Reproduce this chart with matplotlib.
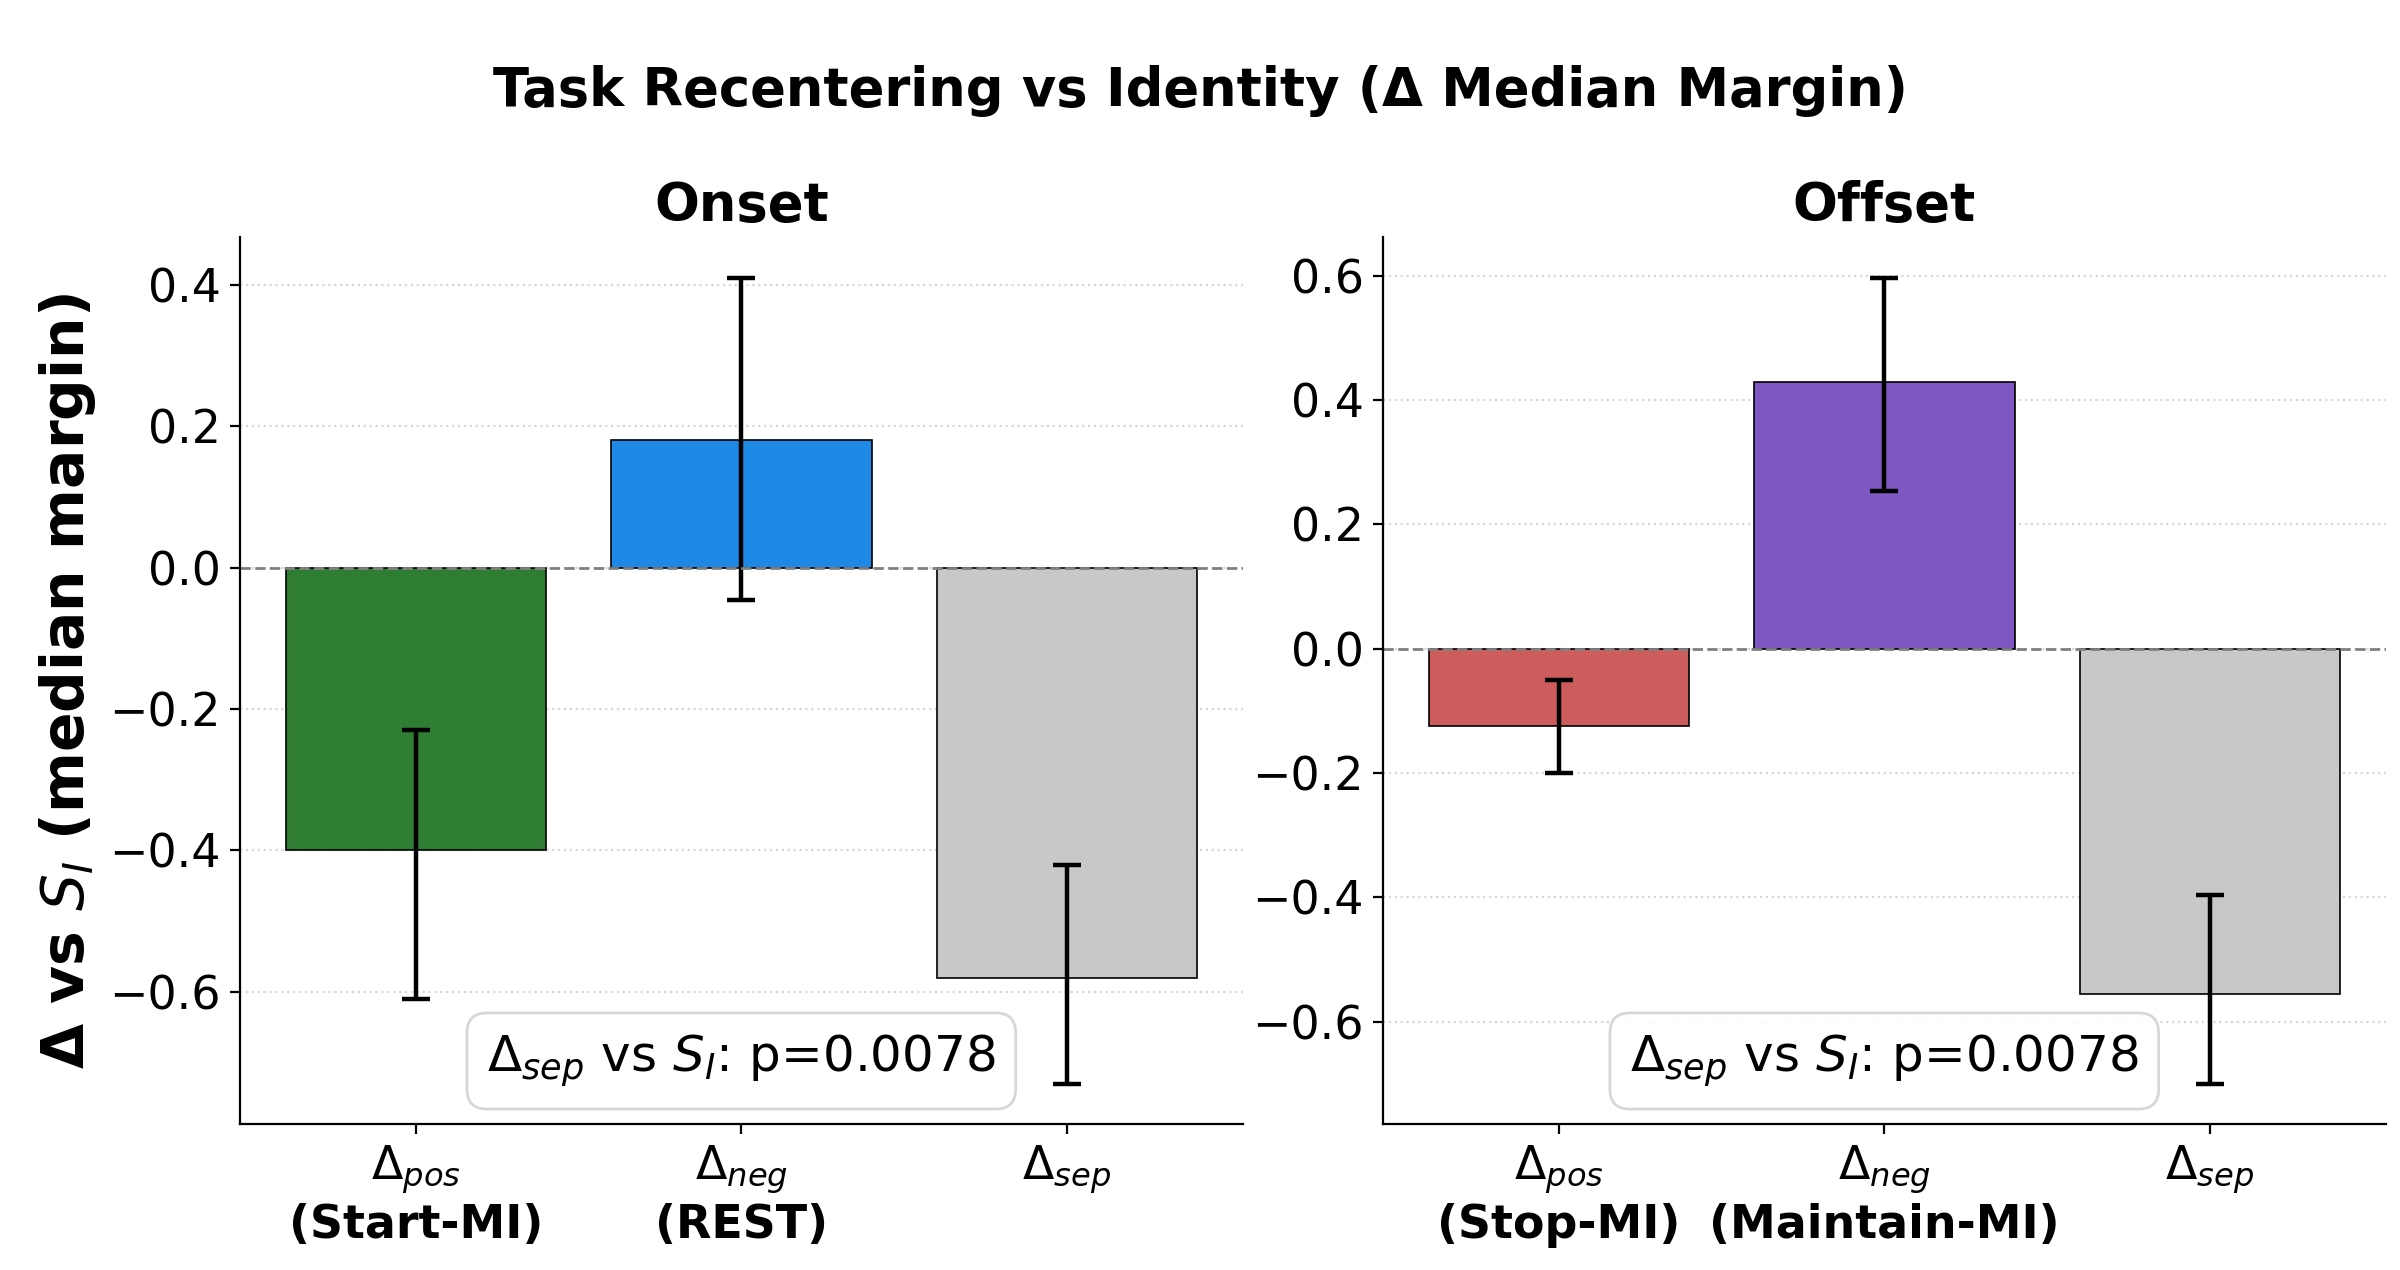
import matplotlib
matplotlib.use("Agg")
import matplotlib.pyplot as plt
import numpy as np

# data
labels_onset = ["$\\Delta_{pos}$\n(Start-MI)", "$\\Delta_{neg}$\n(REST)", "$\\Delta_{sep}$\n"]
onset_vals = [-0.40, 0.18, -0.58]
onset_lo = [-0.61, -0.046, -0.73]
onset_hi = [-0.23, 0.41, -0.42]
onset_colors = ["#2e7d32", "#1e88e5", "#c8c8c8"]

labels_offset = ["$\\Delta_{pos}$\n(Stop-MI)", "$\\Delta_{neg}$\n(Maintain-MI)", "$\\Delta_{sep}$\n"]
offset_vals = [-0.125, 0.43, -0.555]
offset_lo = [-0.20, 0.254, -0.70]
offset_hi = [-0.05, 0.597, -0.396]
offset_colors = ["#cd5c5c", "#7e57c2", "#c8c8c8"]

p_text = "$\\Delta_{sep}$ vs $S_I$: p=0.0078"

fig, axes = plt.subplots(1, 2, figsize=(12, 6.35), dpi=200)
fig.subplots_adjust(left=0.1, right=0.994, bottom=0.115, top=0.813, wspace=0.14)


def draw(ax, title, labels, vals, lo, hi, colors):
    x = np.arange(len(vals))
    vals = np.array(vals)
    yerr = [vals - np.array(lo), np.array(hi) - vals]
    ax.bar(x, vals, width=0.8, color=colors, edgecolor="black", linewidth=0.6)
    ax.errorbar(x, vals, yerr=yerr, fmt="none", ecolor="black", elinewidth=1.6, capsize=5, capthick=1.6)
    ax.axhline(0, color="gray", linestyle="--", linewidth=1)
    ax.set_xticks(x)
    ax.set_xticklabels(labels, fontsize=16.5, fontweight="bold")
    ax.tick_params(axis="y", labelsize=16.5)
    ax.grid(axis="y", linestyle=":", color="lightgray", alpha=0.9)
    ax.set_axisbelow(True)
    ax.spines["top"].set_visible(False)
    ax.spines["right"].set_visible(False)
    ax.set_title(title, fontsize=19, fontweight="bold")
    ax.text(0.5, 0.071, p_text, transform=ax.transAxes, ha="center", va="center", fontsize=18,
            bbox=dict(boxstyle="round,pad=0.4", facecolor="white", edgecolor="lightgray", alpha=0.9))


draw(axes[0], "Onset", labels_onset, onset_vals, onset_lo, onset_hi, onset_colors)
draw(axes[1], "Offset", labels_offset, offset_vals, offset_lo, offset_hi, offset_colors)

axes[0].set_ylabel("\u0394 vs $S_I$ (median margin)", fontsize=21, fontweight="bold")
fig.suptitle("Task Recentering vs Identity (\u0394 Median Margin)", fontsize=19, fontweight="bold", y=0.949)

fig.savefig("out.png", dpi=200)
